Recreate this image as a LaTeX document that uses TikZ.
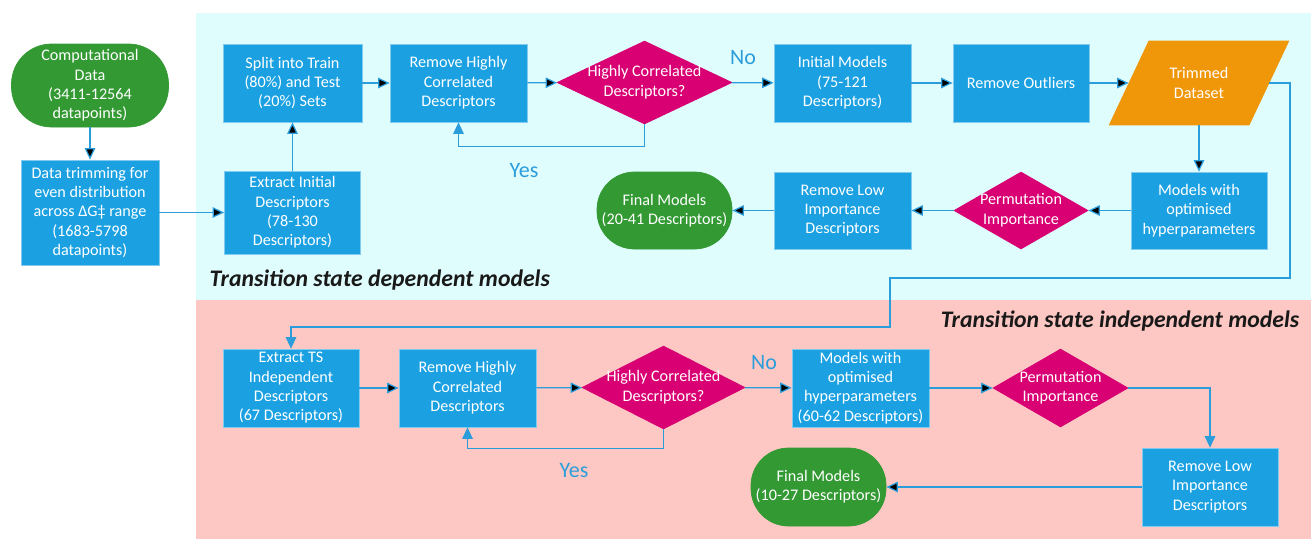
\documentclass[tikz,border=0pt]{standalone}
\usepackage{fontspec}
\setmainfont{Carlito}
\usepackage{tikz}
\usetikzlibrary{arrows.meta,shapes.geometric,positioning,backgrounds}
\definecolor{procblue}{HTML}{1BA1E2}
\definecolor{termgreen}{HTML}{339933}
\definecolor{decpink}{HTML}{D80073}
\definecolor{dataorange}{HTML}{F09609}
\definecolor{linkblue}{HTML}{2B9DDB}
\definecolor{tsdepbg}{HTML}{E0FDFE}
\definecolor{tsindbg}{HTML}{FDC8C3}
\newcommand{\dectext}[1]{\makebox[0pt]{\begin{tabular}{@{}c@{}}#1\end{tabular}}}

\begin{document}
\begin{tikzpicture}[x=0.2mm,y=-0.2mm,>={Triangle[length=2.3mm,width=2.1mm]}]
    \fontsize{9.2}{11}\selectfont
    \tikzstyle{proc_node}=[rectangle,fill=procblue,draw=procblue!55!white,line width=0.4pt,text=white,align=center,inner sep=0pt,minimum width=27.4mm,minimum height=15.6mm]
    \tikzstyle{term_node}=[proc_node,fill=termgreen,draw=termgreen,rounded corners=7.5mm,minimum width=27mm]
    \tikzstyle{dec_node}=[diamond,fill=decpink,draw=decpink,text=white,inner sep=0pt,minimum width=27mm,minimum height=15.6mm]
    \tikzstyle{data_node}=[rectangle,text=white,align=center,inner sep=0pt,minimum width=28mm,minimum height=16.8mm]
    \tikzstyle{conn}=[->,draw=linkblue,line width=0.7pt]
    \tikzstyle{yn_label}=[text=linkblue,font=\fontsize{12.5}{14}\selectfont]
    \tikzstyle{sec_label}=[text=black!90,font=\fontsize{13.5}{16}\selectfont\bfseries\itshape]

    \useasboundingbox (0,0) rectangle (1311,539);

    % transition state dependent models
    \node[term_node,minimum width=31.4mm,minimum height=16.6mm,rounded corners=8mm] (cd) at (90,85.5) {Computational\\Data\\(3411-12564\\datapoints)};
    \node[proc_node,minimum width=27.6mm,minimum height=21mm] (dtrim) at (90,212.5) {Data trimming for\\even distribution\\across ΔG‡ range\\(1683-5798\\datapoints)};
    \node[proc_node,minimum width=27.2mm,minimum height=16.6mm] (eid) at (292.5,212.5) {Extract Initial\\Descriptors\\(78-130\\Descriptors)};
    \node[proc_node,minimum width=27.8mm] (split) at (292.5,83) {Split into Train\\(80\%) and Test\\(20\%) Sets};
    \node[proc_node] (rhc1) at (458.5,83) {Remove Highly\\Correlated\\Descriptors};
    \node[dec_node,minimum width=35mm,minimum height=16.6mm] (hcd1) at (644.5,82.5) {\dectext{Highly Correlated\\Descriptors?}};
    \node[proc_node] (init) at (842.5,83) {Initial Models\\(75-121\\Descriptors)};
    \node[proc_node,minimum width=27.2mm] (rout) at (1021,83) {Remove Outliers};
    \node[data_node] (trim) at (1199,83) {Trimmed\\Dataset};
    \node[proc_node,minimum width=27.2mm,minimum height=15.4mm] (mopt1) at (1199,210.5) {Models with\\optimised\\hyperparameters};
    \node[dec_node,minimum width=26.8mm,minimum height=15.4mm] (perm1) at (1021,210.5) {\dectext{Permutation\\Importance}};
    \node[proc_node,minimum height=15.4mm] (rlow1) at (842.5,210.5) {Remove Low\\Importance\\Descriptors};
    \node[term_node,minimum height=15.4mm] (fin1) at (664.5,210.5) {Final Models\\(20-41 Descriptors)};

    % transition state independent models
    \node[proc_node,minimum width=27.2mm] (ets) at (291,388) {Extract TS\\Independent\\Descriptors\\(67 Descriptors)};
    \node[proc_node] (rhc2) at (467.5,388) {Remove Highly\\Correlated\\Descriptors};
    \node[dec_node,minimum width=32.6mm,minimum height=16.6mm] (hcd2) at (663.5,387.5) {\dectext{Highly Correlated\\Descriptors?}};
    \node[proc_node] (mopt2) at (860.5,388) {Models with\\optimised\\hyperparameters\\(60-62 Descriptors)};
    \node[dec_node] (perm2) at (1060.5,388) {\dectext{Permutation\\Importance}};
    \node[proc_node,minimum width=27.2mm] (rlow2) at (1210,487) {Remove Low\\Importance\\Descriptors};
    \node[term_node] (fin2) at (818.5,487) {Final Models\\(10-27 Descriptors)};

    \node[sec_label,anchor=west] (tsdep) at (204,280) {Transition state dependent models};
    \node[sec_label,anchor=east] (tsind) at (1305,321) {Transition state independent models};

    \node[yn_label] (no1) at (743,58) {No};
    \node[yn_label] (yes1) at (524,171) {Yes};
    \node[yn_label] (no2) at (764,363) {No};
    \node[yn_label] (yes2) at (574,471) {Yes};

    \coordinate (bend_a) at (1290,278);
    \coordinate (bend_b) at (890,327);

    \path[conn]
    (cd) edge (dtrim)
    (dtrim) edge (eid)
    (eid) edge (split)
    (split) edge (rhc1)
    (rhc1) edge (hcd1)
    (hcd1) edge (init)
    (init) edge (rout)
    (rout) edge (trim)
    (trim) edge (mopt1)
    (mopt1) edge (perm1)
    (perm1) edge (rlow1)
    (rlow1) edge (fin1)
    (ets) edge (rhc2)
    (rhc2) edge (hcd2)
    (hcd2) edge (mopt2)
    (mopt2) edge (perm2)
    (rlow2) edge (fin2);

    \draw[conn] (hcd1.south) -- ++(0,22) -| (rhc1.south);
    \draw[conn] (hcd2.south) -- ++(0,19) -| (rhc2.south);
    \draw[conn] (trim.east) -| (bend_a) -| (bend_b) -| (ets.north);
    \draw[conn] (perm2.east) -| (rlow2.north);

    \begin{scope}[on background layer]
    \fill[tsdepbg] (196,13) rectangle (1311,300);
    \fill[tsindbg] (196,300) rectangle (1311,539);
    % slanted data shape round the trimmed dataset node
    \fill[dataorange] ([xshift=-4mm]trim.south west) -- ([xshift=4mm]trim.north west)
        -- ([xshift=4mm]trim.north east) -- ([xshift=-4mm]trim.south east) -- cycle;
    \end{scope}

\end{tikzpicture}
\end{document}
